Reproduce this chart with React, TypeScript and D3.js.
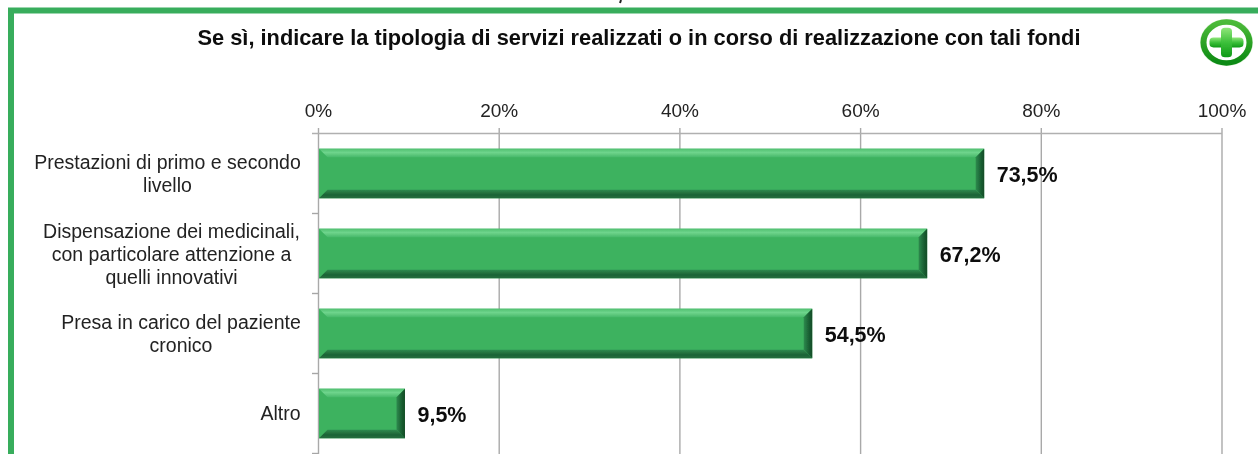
import React from "react";
import * as d3 from "d3";

const categories = ["Prestazioni di primo e secondo livello", "Dispensazione dei medicinali, con particolare attenzione a quelli innovativi", "Presa in carico del paziente cronico", "Altro"];
const categoryLines = [["Prestazioni di primo e secondo", "livello"], ["Dispensazione dei medicinali,", "con particolare attenzione a", "quelli innovativi"], ["Presa in carico del paziente", "cronico"], ["Altro"]];
const values = [73.5, 67.2, 54.5, 9.5];
const valueLabels = ["73,5%", "67,2%", "54,5%", "9,5%"];
const ticks = [0, 20, 40, 60, 80, 100];
const title = "Se sì, indicare la tipologia di servizi realizzati o in corso di realizzazione con tali fondi";

const font = "'Liberation Sans', Arial, sans-serif";
const labelCenters = [167.5, 171.5, 181, 280.5];

export default function App() {
  const x = d3.scaleLinear().domain([0, 100]).range([318.5, 1222]);
  const barX = d3.scaleLinear().domain([0, 100]).range([319, 1224]);
  const y = d3.scaleBand<string>().domain(categories).range([133.5, 453.5]).paddingInner(0.38).paddingOuter(0.19);
  const bw = y.bandwidth();
  const bev = 8.5;
  const boundaries = d3.range(categories.length + 1).map((i) => 133.5 + (i * 320) / categories.length);
  return (
    <svg width={1258} height={454} style={{ position: "absolute", left: 0, top: 0, background: "#fff" }} fontFamily={font}>
      <defs>
        <filter id="soft" x="0" y="0" width="100%" height="100%" filterUnits="userSpaceOnUse" primitiveUnits="userSpaceOnUse">
          <feGaussianBlur stdDeviation="0.45" />
        </filter>
        <linearGradient id="plus" x1="0" y1="0" x2="0" y2="1">
          <stop offset="0" stopColor="#8fe67a" />
          <stop offset="0.5" stopColor="#3cc03a" />
          <stop offset="1" stopColor="#0f9a18" />
        </linearGradient>
        <linearGradient id="ring" x1="0" y1="0" x2="0" y2="1">
          <stop offset="0" stopColor="#4dbb3a" />
          <stop offset="1" stopColor="#0c8a12" />
        </linearGradient>
        <linearGradient id="bevTop" x1="0" y1="0" x2="0" y2="1">
          <stop offset="0" stopColor="#4fbf70" />
          <stop offset="0.45" stopColor="#6ed48c" />
          <stop offset="1" stopColor="#48b96a" />
        </linearGradient>
        <linearGradient id="bevBottom" x1="0" y1="0" x2="0" y2="1">
          <stop offset="0" stopColor="#2f8a4e" />
          <stop offset="0.6" stopColor="#1c6336" />
          <stop offset="1" stopColor="#246f3f" />
        </linearGradient>
        <linearGradient id="bevRight" x1="0" y1="0" x2="1" y2="0">
          <stop offset="0" stopColor="#2f8a4e" />
          <stop offset="0.7" stopColor="#175a2f" />
          <stop offset="1" stopColor="#134d28" />
        </linearGradient>
      </defs>
      <g filter="url(#soft)">
        <line x1={621} x2={620} y1={0} y2={3} stroke="#222" strokeWidth={2} />
        <path d="M11,454 V10.5 H1258" fill="none" stroke="#39ad5c" strokeWidth={6} />
        <text x={639} y={45} textAnchor="middle" fontSize={21.8} fontWeight="bold" fill="#111">{title}</text>
        <g transform="translate(1226.5,42.5) scale(1,0.89)">
          <circle r={26.5} fill="#cfeccb" />
          <circle r={23} fill="#fff" stroke="url(#ring)" strokeWidth={6} />
          <rect x={-17} y={-5.5} width={34} height={11} rx={4} fill="url(#plus)" />
          <rect x={-5.5} y={-16.5} width={11} height={33} rx={4} fill="url(#plus)" />
        </g>
        {ticks.map((t) => (
          <g key={t}>
            <line x1={x(t)} x2={x(t)} y1={128} y2={454} stroke="#a9a9a9" strokeWidth={1.4} />
            <text x={x(t)} y={117} textAnchor="middle" fontSize={19} fill="#222">{t}%</text>
          </g>
        ))}
        <line x1={312} x2={1222} y1={133.5} y2={133.5} stroke="#b0b0b0" strokeWidth={1.4} />
        {boundaries.slice(1).map((b) => (
          <line key={b} x1={312} x2={318.5} y1={b} y2={b} stroke="#a6a6a6" strokeWidth={1.4} />
        ))}
        {categories.map((c, i) => {
          const y0 = y(c)!;
          const x0 = barX(0);
          const x1 = barX(values[i]);
          const y1 = y0 + bw;
          const lines = categoryLines[i];
          const cy = y0 + bw / 2;
          return (
            <g key={c}>
              <rect x={x0} y={y0} width={x1 - x0} height={bw} fill="#3cb25f" />
              <polygon points={`${x0},${y0} ${x1},${y0} ${x1 - bev},${y0 + bev} ${x0 + bev},${y0 + bev}`} fill="url(#bevTop)" />
              <polygon points={`${x0},${y1} ${x1},${y1} ${x1 - bev},${y1 - bev} ${x0 + bev},${y1 - bev}`} fill="url(#bevBottom)" />
              <polygon points={`${x1},${y0} ${x1},${y1} ${x1 - bev},${y1 - bev} ${x1 - bev},${y0 + bev}`} fill="url(#bevRight)" />
              <text x={x1 + 12.5} y={cy + 8} fontSize={21.5} fontWeight="bold" fill="#111">{valueLabels[i]}</text>
              {lines.map((l, k) => (
                <text key={l} x={labelCenters[i]} y={cy + 6.5 + (i === 1 ? 1 : 0) + (k - (lines.length - 1) / 2) * 23} textAnchor="middle" fontSize={19.5} fill="#222">{l}</text>
              ))}
            </g>
          );
        })}
      </g>
    </svg>
  );
}
